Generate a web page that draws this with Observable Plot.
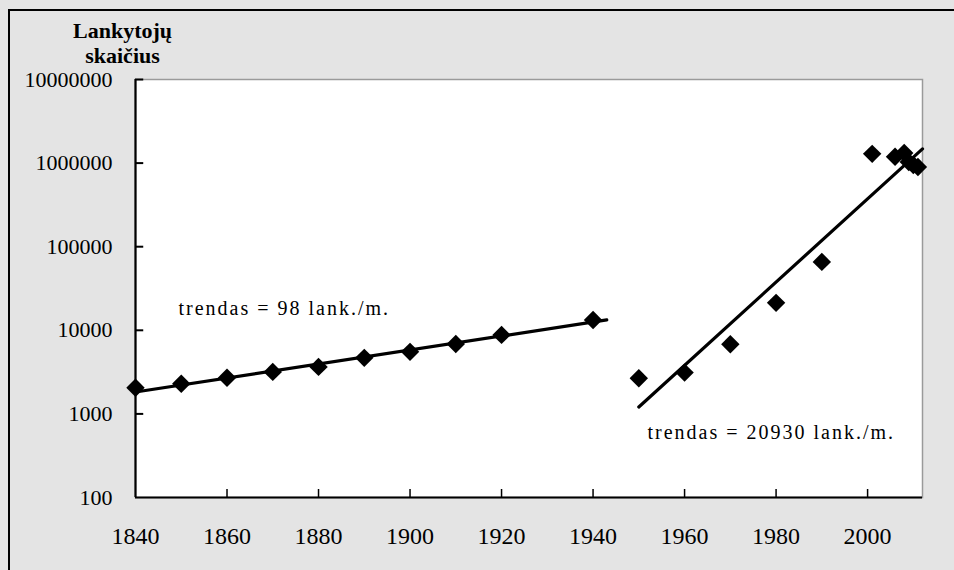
<!DOCTYPE html>
<html>
<head>
<meta charset="utf-8">
<script src="https://cdn.jsdelivr.net/npm/d3@7"></script>
<script src="https://cdn.jsdelivr.net/npm/@observablehq/plot@0.6"></script>
<style>
  body { margin: 0; padding: 0; background: #e4e4e4; }
  #wrap { position: relative; width: 954px; height: 570px; overflow: hidden; }
  #border { position: absolute; left: 8px; top: 9px; width: 960px; height: 580px;
            border-left: 2px solid #000; border-top: 2px solid #000; pointer-events: none; }
  svg, svg text { font-family: "Liberation Serif", "Times New Roman", serif !important; }
</style>
</head>
<body>
<div id="wrap"><div id="border"></div></div>
<script>
// --- data ---
const years1 = [1840, 1850, 1860, 1870, 1880, 1890, 1900, 1910, 1920, 1940];
const visitors1 = [2050, 2290, 2700, 3180, 3650, 4680, 5520, 6870, 8810, 13300];
const years2 = [1950, 1960, 1970, 1980, 1990, 2001, 2006, 2008, 2009, 2010, 2011];
const visitors2 = [2670, 3120, 6820, 21300, 65800, 1290000, 1190000, 1320000, 1030000, 950000, 900000];
const trend1Years = [1840, 1943];
const trend1Values = [1830, 13300];
const trend2Years = [1950, 2012];
const trend2Values = [1210, 1480000];
const xTicks = [1840, 1860, 1880, 1900, 1920, 1940, 1960, 1980, 2000];
const yTicks = [100, 1000, 10000, 100000, 1000000, 10000000];
const yTitle = ["Lankytojų", "skaičius"];
const trendLabels = ["trendas = 98 lank./m.", "trendas = 20930 lank./m."];

const pts1 = years1.map((y, i) => ({year: y, v: visitors1[i]}));
const pts2 = years2.map((y, i) => ({year: y, v: visitors2[i]}));
const tr1 = trend1Years.map((y, i) => ({year: y, v: trend1Values[i]}));
const tr2 = trend2Years.map((y, i) => ({year: y, v: trend2Values[i]}));

const serif = "Liberation Serif";
const yMin = 100;
const xMin = 1840;

const chart = Plot.plot({
  width: 954,
  height: 570,
  marginLeft: 135,
  marginRight: 32,
  marginTop: 79,
  marginBottom: 73,
  style: {background: "#e4e4e4", color: "#000", overflow: "visible"},
  x: {domain: [1840, 2012]},
  y: {type: "log", domain: [100, 10000000]},
  marks: [
    Plot.frame({fill: "white", stroke: "#9a9a9a", strokeWidth: 1.5}),
    // inward ticks
    Plot.ruleY(yTicks.slice(1), {x1: xMin, x2: xMin + 1.8, stroke: "#000", strokeWidth: 2}),
    Plot.ruleX(xTicks.slice(1), {y1: yMin, y2: yMin * Math.pow(10, 8 / 83.6), stroke: "#000", strokeWidth: 1.5}),
    // axis lines
    Plot.ruleX([xMin], {stroke: "#000", strokeWidth: 2.2}),
    Plot.ruleY([yMin], {stroke: "#000", strokeWidth: 2.2}),
    Plot.axisY({ticks: yTicks, tickSize: 0, tickPadding: 23, tickFormat: d => String(d),
                fontSize: 22, label: null, fontFamily: serif}),
    Plot.axisX({ticks: xTicks, tickSize: 0, tickPadding: 29, tickFormat: d => String(d),
                fontSize: 24, label: null, fontFamily: serif}),
    // trend lines
    Plot.line(tr1, {x: "year", y: "v", stroke: "#000", strokeWidth: 3.2}),
    Plot.line(tr2, {x: "year", y: "v", stroke: "#000", strokeWidth: 3.2}),
    // points
    Plot.dot(pts1, {x: "year", y: "v", symbol: "diamond2", r: 8.3, fill: "#000", stroke: "none"}),
    Plot.dot(pts2, {x: "year", y: "v", symbol: "diamond2", r: 8.3, fill: "#000", stroke: "none"}),
    // trend annotations
    Plot.text([trendLabels[0]], {x: 1849.4, y: 18000, text: d => d, textAnchor: "start",
              lineAnchor: "middle", fontSize: 20, fill: "#000", fontFamily: serif}),
    Plot.text([trendLabels[1]], {x: 1951.9, y: 593, text: d => d, textAnchor: "start",
              lineAnchor: "middle", fontSize: 20, fill: "#000", fontFamily: serif}),
    // y title
    Plot.text([yTitle[0]], {frameAnchor: "top-left", dx: -13, dy: -49, text: d => d, fontFamily: serif,
              textAnchor: "middle", lineAnchor: "middle", fontSize: 22, fontWeight: "bold", fill: "#000"}),
    Plot.text([yTitle[1]], {frameAnchor: "top-left", dx: -13, dy: -24, text: d => d, fontFamily: serif,
              textAnchor: "middle", lineAnchor: "middle", fontSize: 22, fontWeight: "bold", fill: "#000"})
  ]
});
chart.querySelectorAll("text").forEach(t => {
  if (t.textContent.startsWith("trendas")) t.style.letterSpacing = "2px";
});
document.getElementById("wrap").insertBefore(chart, document.getElementById("border"));
</script>
</body>
</html>
